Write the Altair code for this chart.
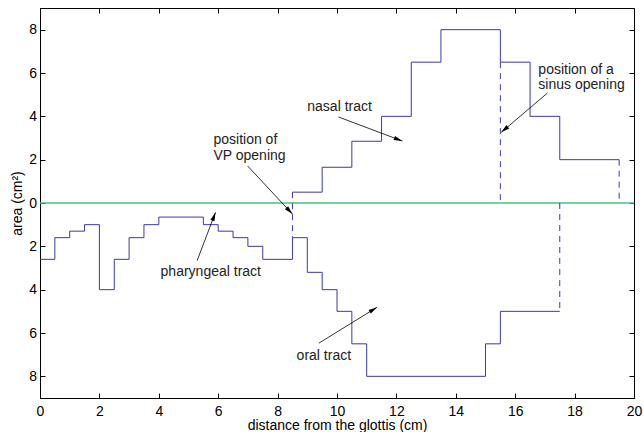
import math
import altair as alt
import pandas as pd

# ---------------- data ----------------
phar_x = [0, 0.5, 1, 1.5, 2, 2.5, 3, 3.5, 4, 5.5, 6, 6.5, 7, 7.5, 8.5]
phar_y = [-2.6, -1.6, -1.3, -1.0, -4.0, -2.6, -1.6, -1.0, -0.65, -1.0, -1.3, -1.6, -2.0, -2.6, -1.6]

oral_x = [8.5, 9, 9.5, 10, 10.5, 11, 15, 15.5, 17.5]
oral_y = [-1.6, -3.2, -4.0, -5.0, -6.5, -8.0, -6.5, -5.0, -5.0]

nasal_x = [8.5, 9.5, 10.5, 11.5, 12.5, 13.5, 15.5, 16.5, 17.5, 19.5]
nasal_y = [0.5, 1.65, 2.85, 4.0, 6.5, 8.0, 6.5, 4.0, 2.0, 2.0]

dash_x = [8.5, 15.5, 17.5, 19.5]
dash_y1 = [0.5, 6.5, 0.0, 2.0]
dash_y2 = [-1.6, 0.0, -5.0, 0.0]

label_text = ["position of", "VP opening", "nasal tract", "position of a",
              "sinus opening", "pharyngeal tract", "oral tract"]
label_x = [5.84, 5.84, 9.0, 16.78, 16.78, 4.06, 8.64]
label_y = [2.91, 2.17, 4.43, 6.14, 5.45, -3.18, -7.06]

arrow_x1 = [6.99, 10.05, 17.09, 5.29, 9.39]
arrow_y1 = [1.71, 3.97, 5.08, -2.66, -6.47]
arrow_x2 = [8.5, 12.2, 15.53, 5.91, 11.35]
arrow_y2 = [-0.51, 2.86, 3.26, -0.43, -4.81]

x_ticks = list(range(0, 21, 2))
y_ticks = [-8, -6, -4, -2, 0, 2, 4, 6, 8]

# ---------------- layout ----------------
W, H = 594, 390
XD, YD = [0, 20], [-9, 9]
BLUE = "#3a3aa8"
GREEN = "#4cbf86"
FONT = "Liberation Sans"
FS = 14

xs = alt.Scale(domain=XD, nice=False, zero=False)
ys = alt.Scale(domain=YD, nice=False, zero=False)

phar = pd.DataFrame({"x": phar_x, "y": phar_y})
oral = pd.DataFrame({"x": oral_x, "y": oral_y})
nasal = pd.DataFrame({"x": nasal_x, "y": nasal_y})
dash = pd.DataFrame({"x": dash_x, "y1": dash_y1, "y2": dash_y2})
labels = pd.DataFrame({"t": label_text, "x": label_x, "y": label_y})

sx = W / (XD[1] - XD[0])
sy = H / (YD[1] - YD[0])
angles = []
for a, b, c, d in zip(arrow_x1, arrow_y1, arrow_x2, arrow_y2):
    dx = (c - a) * sx
    dy = -(d - b) * sy
    angles.append(math.degrees(math.atan2(dx, -dy)) % 360)
arrows = pd.DataFrame({"x1": arrow_x1, "y1": arrow_y1, "x2": arrow_x2,
                       "y2": arrow_y2, "ang": angles})

inward = {"expr": "-5"}

axis_bottom = alt.Axis(orient="bottom", values=x_ticks, tickSize=inward,
                       tickColor="black", domainColor="black", labelColor="black",
                       labelFontSize=FS, labelFont=FONT, labelPadding=11,
                       title="distance from the glottis (cm)", titleFont=FONT,
                       titleFontSize=FS, titleFontWeight="normal",
                       titleColor="black", titlePadding=0, grid=False,
                       labelFlush=False)
axis_left = alt.Axis(orient="left", values=y_ticks, tickSize=inward,
                     labelExpr="abs(datum.value)",
                     tickColor="black", domainColor="black", labelColor="black",
                     labelFontSize=FS, labelFont=FONT, labelPadding=8.5,
                     title="area (cm²)", titleFont=FONT, titleFontSize=FS,
                     titleFontWeight="normal", titleColor="black",
                     titlePadding=4, grid=False, labelFlush=False)
axis_top = alt.Axis(orient="top", values=x_ticks, tickSize=inward,
                    tickColor="black", labels=False, domain=False, title=None,
                    grid=False)
axis_right = alt.Axis(orient="right", values=y_ticks, tickSize=inward,
                      tickColor="black", labels=False, domain=False, title=None,
                      grid=False)

zero_line = alt.Chart(pd.DataFrame({"y": [0]})).mark_rule(
    color=GREEN, strokeWidth=1.5).encode(
    y=alt.Y("y:Q", scale=ys, axis=None))

phar_line = alt.Chart(phar).mark_line(
    interpolate="step-after", color=BLUE, strokeWidth=1).encode(
    x=alt.X("x:Q", scale=xs, axis=axis_bottom),
    y=alt.Y("y:Q", scale=ys, axis=axis_left))

oral_line = alt.Chart(oral).mark_line(
    interpolate="step-after", color=BLUE, strokeWidth=1).encode(
    x=alt.X("x:Q", scale=xs, axis=None),
    y=alt.Y("y:Q", scale=ys, axis=None))

nasal_line = alt.Chart(nasal).mark_line(
    interpolate="step-after", color=BLUE, strokeWidth=1).encode(
    x=alt.X("x:Q", scale=xs, axis=axis_top),
    y=alt.Y("y:Q", scale=ys, axis=axis_right))

dashes = alt.Chart(dash).mark_rule(
    color=BLUE, strokeWidth=1, strokeDash=[6, 5]).encode(
    x=alt.X("x:Q", scale=xs, axis=None),
    y=alt.Y("y1:Q", scale=ys, axis=None),
    y2="y2:Q")

shafts = alt.Chart(arrows).mark_rule(color="black", strokeWidth=0.8).encode(
    x=alt.X("x1:Q", scale=xs, axis=None),
    y=alt.Y("y1:Q", scale=ys, axis=None),
    x2="x2:Q", y2="y2:Q")

heads = alt.Chart(arrows).mark_point(
    shape="M0,0L-0.25,1L0.25,1Z", filled=True, color="black", opacity=1,
    size=300, strokeWidth=0).encode(
    x=alt.X("x2:Q", scale=xs, axis=None),
    y=alt.Y("y2:Q", scale=ys, axis=None),
    angle=alt.Angle("ang:Q", scale=None))

texts = alt.Chart(labels).mark_text(
    align="left", baseline="middle", font=FONT, fontSize=FS,
    color="#222222").encode(
    x=alt.X("x:Q", scale=xs, axis=None),
    y=alt.Y("y:Q", scale=ys, axis=None),
    text="t:N")

chart = alt.layer(
    zero_line, phar_line, oral_line, nasal_line, dashes, shafts, heads, texts
).resolve_axis(x="independent", y="independent").properties(
    width=W, height=H,
    autosize=alt.AutoSizeParams(type="none"),
    padding={"left": 40, "top": 8, "right": 9, "bottom": 34},
    background="white",
).configure_view(stroke="black", strokeWidth=1)

chart.save("out.html", embed_options={"renderer": "svg", "actions": False})
